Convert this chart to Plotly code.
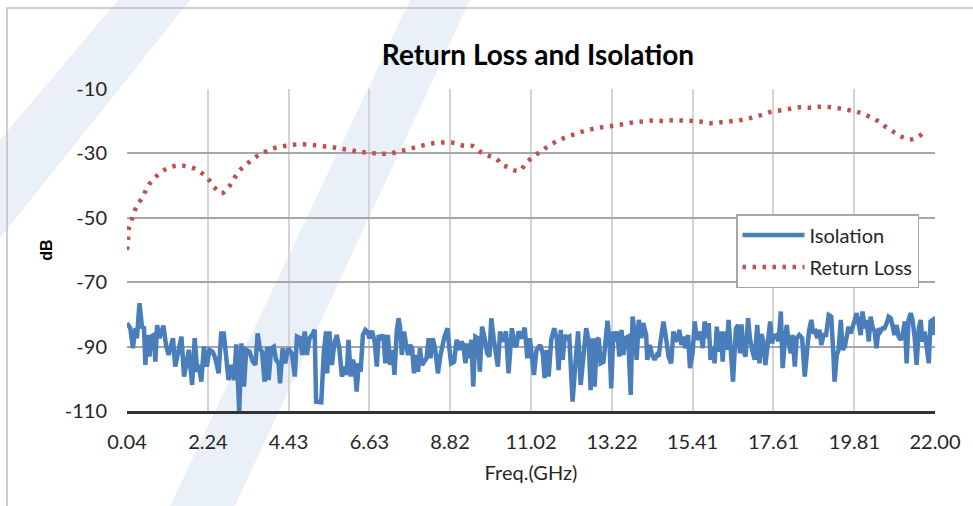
import plotly.graph_objects as go

# ---------------- data ----------------
tick_labels = ["0.04", "2.24", "4.43", "6.63", "8.82", "11.02", "13.22",
               "15.41", "17.61", "19.81", "22.00"]
y_ticks = [-10, -30, -50, -70, -90, -110]
y_tick_labels = ["-10", "-30", "-50", "-70", "-90", "-110"]

rl_freq = [0.04, 0.07, 0.09, 0.18, 0.27, 0.40, 0.53, 0.66, 0.85, 1.05,
           1.30, 1.56, 1.83, 2.06, 2.25, 2.41, 2.61, 2.80, 2.94, 3.09,
           3.29, 3.50, 3.74, 3.97, 4.23, 4.50, 4.77, 5.04, 5.30, 5.58,
           5.84, 6.11, 6.37, 6.64, 6.91, 7.17, 7.43, 7.69, 7.95, 8.21,
           8.47, 8.74, 8.97, 9.20, 9.43, 9.64, 9.86, 10.08, 10.24, 10.38,
           10.54, 10.72, 10.88, 11.07, 11.29, 11.50, 11.73, 11.96, 12.22, 12.48,
           12.74, 13.00, 13.27, 13.53, 13.80, 14.06, 14.33, 14.60, 14.87, 15.13,
           15.40, 15.66, 15.93, 16.19, 16.46, 16.73, 16.99, 17.25, 17.51, 17.77,
           18.03, 18.30, 18.58, 18.85, 19.11, 19.38, 19.64, 19.91, 20.16, 20.40,
           20.61, 20.84, 21.07, 21.31, 21.56, 21.76]
rl_db = [-60.0, -56.4, -53.3, -50.2, -47.3, -44.7, -42.0, -39.3, -37.0, -35.2,
         -34.0, -33.8, -34.5, -36.0, -38.0, -40.5, -42.4, -40.5, -38.0, -35.4,
         -33.4, -31.4, -29.8, -28.6, -27.9, -27.4, -27.2, -27.3, -27.7, -28.0,
         -28.5, -29.0, -29.5, -29.8, -30.1, -30.0, -29.4, -28.7, -27.9, -27.2,
         -26.7, -26.6, -26.8, -27.7, -27.7, -29.5, -30.7, -31.7, -33.7, -34.2,
         -35.2, -35.4, -33.1, -31.1, -29.4, -27.7, -26.2, -25.0, -24.0, -23.0,
         -22.3, -21.8, -21.4, -20.9, -20.4, -20.1, -19.8, -19.9, -19.7, -19.8,
         -19.9, -20.2, -20.6, -20.3, -20.0, -19.6, -19.0, -18.2, -17.2, -16.7,
         -16.2, -15.7, -15.8, -15.5, -15.6, -16.0, -16.5, -17.2, -18.3, -19.6,
         -21.4, -23.1, -24.7, -25.7, -24.7, -22.7]

iso_freq = [
    0.04, 0.13, 0.20, 0.27, 0.31, 0.38, 0.45, 0.50, 0.54, 0.59, 0.65, 0.70, 0.77, 0.81, 0.86, 0.92,
    1.03, 1.10, 1.17, 1.29, 1.35, 1.42, 1.52, 1.59, 1.65, 1.72, 1.81, 1.88, 1.95, 1.99, 2.06, 2.13,
    2.21, 2.28, 2.37, 2.44, 2.53, 2.60, 2.67, 2.73, 2.80, 2.88, 2.95, 3.01, 3.09, 3.15, 3.22, 3.28,
    3.37, 3.46, 3.53, 3.59, 3.65, 3.71, 3.78, 3.85, 3.89, 3.96, 4.03, 4.09, 4.16, 4.20, 4.27, 4.34,
    4.42, 4.52, 4.60, 4.66, 4.75, 4.80, 4.87, 4.93, 5.00, 5.07, 5.14, 5.18, 5.25, 5.32, 5.39,
    5.45, 5.48, 5.54, 5.61, 5.67, 5.74, 5.81, 5.88, 5.96, 6.01, 6.06, 6.12, 6.17, 6.23, 6.28, 6.34,
    6.39, 6.45, 6.52, 6.57, 6.63, 6.70, 6.77, 6.83, 6.88, 6.93, 7.01, 7.06, 7.13, 7.19, 7.26, 7.31,
    7.37, 7.42, 7.46, 7.51, 7.57, 7.62, 7.68, 7.73, 7.79, 7.84, 7.89, 7.95, 8.00, 8.06, 8.11, 8.18,
    8.24, 8.29, 8.35, 8.42, 8.49, 8.56, 8.67, 8.75, 8.80, 8.85, 8.93, 9.00, 9.07, 9.13, 9.18, 9.24,
    9.29, 9.34, 9.40, 9.45, 9.51, 9.58, 9.63, 9.69, 9.76, 9.83, 9.89, 9.94, 10.01, 10.07, 10.12, 10.18,
    10.25, 10.34, 10.41, 10.50, 10.58, 10.63, 10.68, 10.76, 10.85, 10.92,
    10.99, 11.05, 11.10, 11.17, 11.27, 11.34, 11.39, 11.45, 11.50, 11.57, 11.65, 11.72, 11.77, 11.83,
    11.88, 11.94, 11.99, 12.06, 12.15, 12.23, 12.30, 12.37, 12.44, 12.52, 12.59, 12.64, 12.70, 12.75,
    12.81, 12.86, 12.91, 12.99, 13.04, 13.10, 13.15, 13.20, 13.26, 13.31, 13.37, 13.42, 13.48, 13.53,
    13.58, 13.66, 13.73, 13.78, 13.86, 13.89, 13.95, 14.02, 14.07, 14.15, 14.18, 14.25, 14.31, 14.38,
    14.44, 14.49, 14.54, 14.62, 14.69, 14.76, 14.83, 14.89, 14.94, 15.00, 15.05, 15.11, 15.16, 15.21,
    15.29, 15.34, 15.41, 15.47, 15.52, 15.58, 15.63, 15.69, 15.74, 15.79, 15.85, 15.90, 15.96, 16.01,
    16.07, 16.12, 16.18, 16.23, 16.28, 16.34, 16.39, 16.45, 16.51,
    16.59, 16.65, 16.70, 16.74, 16.79, 16.85, 16.92, 16.97, 17.03, 17.10, 17.17, 17.23, 17.28, 17.33,
    17.39, 17.46, 17.52, 17.57, 17.62, 17.70, 17.75, 17.81, 17.86, 17.91, 17.97, 18.02, 18.08, 18.13,
    18.19, 18.24, 18.31, 18.39, 18.46, 18.53, 18.58, 18.64, 18.69, 18.75, 18.80, 18.86, 18.91, 18.97,
    19.04, 19.11, 19.18, 19.24, 19.27, 19.33, 19.38, 19.44, 19.49, 19.55, 19.60, 19.65, 19.71, 19.76,
    19.82, 19.87, 19.93, 19.98, 20.03, 20.09, 20.14, 20.20, 20.25, 20.31, 20.36, 20.41, 20.47, 20.52,
    20.58, 20.63, 20.69, 20.74, 20.80, 20.85, 20.90, 20.96, 21.01, 21.07, 21.12, 21.18, 21.23, 21.28,
    21.34, 21.39, 21.45, 21.50, 21.56, 21.61, 21.66, 21.72, 21.77, 21.83, 21.88, 21.94, 21.99]
iso_db = [
    -82.7, -84.3, -90.5, -84.3, -87.4, -76.5, -84.3, -83.8, -95.7, -86.4, -93.1, -86.9, -86.4, -94.7, -83.3, -87.4,
    -83.5, -89.5, -92.6, -87.4, -96.2, -92.1, -86.9, -99.3, -96.2, -91.0, -101.9, -87.4, -97.8, -95.7, -100.9, -90.0,
    -96.2, -91.0, -91.6, -93.6, -98.3, -85.9, -85.9, -92.6, -100.4, -95.7, -100.4, -89.3, -110.2, -89.0, -102.4, -91.0,
    -91.6, -94.7, -95.7, -85.9, -90.5, -91.6, -100.9, -90.0, -100.4, -90.5, -90.0, -94.1, -95.2, -101.4, -90.5, -95.2,
    -90.5, -92.1, -99.3, -86.9, -87.4, -92.6, -85.3, -92.6, -87.4, -86.4, -84.8, -107.1, -107.1, -107.3, -91.6,
    -85.3, -98.3, -85.3, -95.7, -89.5, -86.4, -90.5, -99.3, -96.2, -98.8, -87.9, -99.3, -94.1, -95.7, -104.0, -95.2,
    -97.8, -86.4, -84.8, -85.3, -87.4, -85.1, -88.4, -96.2, -86.4, -87.4, -86.4, -95.2, -86.4, -95.7, -91.0, -98.8,
    -85.3, -81.2, -83.8, -92.6, -85.3, -89.0, -92.6, -89.5, -90.5, -98.3, -92.6, -97.8, -90.5, -95.7, -94.7, -93.6,
    -87.4, -93.6, -87.4, -91.0, -98.3, -92.6, -86.9, -84.3, -90.5, -95.2, -94.7, -87.9, -91.0, -88.4, -89.5, -95.2,
    -89.0, -93.6, -87.9, -102.4, -86.9, -87.4, -97.8, -83.8, -87.4, -92.1, -93.1, -81.2, -87.9, -93.1, -96.2, -85.3,
    -88.4, -85.3, -98.3, -84.3, -90.0, -89.5, -85.3, -87.4, -84.1, -93.6,
    -87.4, -93.6, -98.8, -91.0, -89.5, -92.1, -99.8, -91.0, -99.3, -87.9, -84.3, -87.4, -97.3, -84.8,
    -94.1, -86.4, -87.4, -86.9, -107.1, -94.7, -85.3, -101.9, -92.6, -84.3, -88.4, -103.5, -87.4, -102.4,
    -87.9, -87.4, -95.2, -94.7, -89.0, -82.0, -87.4, -103.0, -85.3, -88.4, -85.3, -93.1, -84.8, -92.6,
    -87.4, -86.9, -105.0, -80.7, -87.4, -94.1, -81.7, -87.4, -82.7, -86.4, -94.1, -89.5, -92.6, -94.1,
    -92.6, -93.1, -88.4, -82.2, -87.4, -93.1, -95.2, -85.3, -87.4, -88.4, -84.8, -89.5, -86.9, -90.5,
    -86.4, -96.7, -92.1, -82.2, -87.4, -87.4, -85.3, -90.5, -82.2, -87.4, -82.7, -94.1, -90.0, -95.2,
    -83.8, -91.6, -85.3, -94.7, -85.3, -91.0, -81.7, -90.5, -100.9,
    -84.3, -83.3, -92.1, -83.1, -91.0, -93.1, -81.2, -87.4, -91.0, -94.1, -83.3, -95.2, -86.1, -88.1,
    -95.7, -88.4, -82.2, -89.0, -86.9, -86.4, -88.4, -79.1, -96.7, -89.5, -83.3, -88.4, -92.1, -86.4,
    -96.2, -87.4, -86.4, -87.4, -99.3, -90.5, -84.8, -81.7, -85.9, -85.3, -87.4, -84.8, -89.5, -86.4,
    -86.4, -80.2, -80.7, -92.6, -100.9, -92.6, -91.0, -81.7, -91.0, -90.0, -86.4, -83.8, -85.9, -84.3,
    -81.7, -79.6, -84.3, -86.4, -79.1, -84.3, -81.7, -88.4, -80.7, -84.3, -85.3, -90.5, -84.3, -85.3,
    -84.3, -84.3, -82.7, -80.7, -81.2, -83.3, -86.4, -83.3, -86.9, -87.9, -86.4, -82.2, -95.2, -81.7,
    -79.6, -81.7, -87.4, -95.7, -84.3, -81.7, -88.4, -85.3, -89.0, -95.2, -82.2, -81.7, -86.4]

# ---------------- styling ----------------
FONT = "Lato, Open Sans, sans-serif"
BLUE = "#4a7ebb"
RED = "#c0504d"
TXT = "#262626"

W, H = 973, 506
L, R, T, B = 127, 38, 89, 95
PW, PH = W - L - R, H - T - B


def px2paper(x, y):
    return (x - L) / PW, (H - B - y) / PH


def poly(points):
    pts = [px2paper(x, y) for x, y in points]
    d = "M " + " L ".join(f"{a:.4f},{b:.4f}" for a, b in pts) + " Z"
    return dict(type="path", path=d, xref="paper", yref="paper",
                fillcolor="#e9f0f8", line=dict(width=0), layer="below")


fig = go.Figure()
fig.add_trace(go.Scatter(
    x=iso_freq, y=iso_db, mode="lines", name="Isolation",
    line=dict(color=BLUE, width=4.5), legendgroup="a"))
fig.add_trace(go.Scatter(
    x=rl_freq, y=rl_db, mode="lines", name="Return Loss",
    line=dict(color=RED, width=4.5, dash="3.5px,6.5px", shape="spline"),
    legendgroup="b"))

shapes = [
    poly([(118, 0), (190, 0), (0, 238), (0, 140)]),
    poly([(410, 0), (470, 0), (235, 506), (170, 506)]),
    # outer chart frame
    dict(type="rect", xref="paper", yref="paper",
         x0=px2paper(7, 0)[0], x1=px2paper(990, 0)[0],
         y0=px2paper(0, 530)[1], y1=px2paper(0, 8)[1],
         line=dict(color="#bfbfbf", width=1.5), layer="below"),
]

fig.update_layout(
    width=W, height=H,
    margin=dict(l=L, r=R, t=T, b=B),
    paper_bgcolor="white", plot_bgcolor="rgba(0,0,0,0)",
    font=dict(family=FONT, size=16, color=TXT),
    title=dict(text="<b>Return Loss and Isolation</b>", x=538 / W, y=1 - 55 / H,
               xanchor="center", yanchor="middle",
               font=dict(family=FONT, size=28, color="#000000")),
    shapes=shapes,
    showlegend=True,
    legend=dict(x=px2paper(736, 0)[0], y=px2paper(0, 214)[1],
                xanchor="left", yanchor="top",
                bgcolor="white", bordercolor="#a6a6a6", borderwidth=1.5,
                font=dict(family=FONT, size=20, color=TXT),
                tracegroupgap=3, traceorder="grouped", itemwidth=62),
)
fig.update_xaxes(
    range=[0.04, 22.0], tickvals=[float(t) for t in tick_labels], ticktext=tick_labels,
    showgrid=True, gridcolor="#d4d4d4", gridwidth=1.8,
    showline=True, linecolor="#333333", linewidth=2.5,
    ticks="", ticklabelstandoff=11, zeroline=False,
    tickfont=dict(family=FONT, size=20, color=TXT),
    title=dict(text="Freq.(GHz)", standoff=15, font=dict(family=FONT, size=20, color=TXT)),
)
fig.update_yaxes(
    range=[-110, -10], tickvals=y_ticks, ticktext=y_tick_labels,
    showgrid=True, gridcolor="#a6a6a6", gridwidth=1.8,
    zeroline=False, showline=False, ticks="", ticklabelstandoff=19,
    tickfont=dict(family=FONT, size=20, color=TXT),
    title=dict(text="<b>dB</b>", standoff=8, font=dict(family="Liberation Sans, Arial", size=16, color="#000000")),
)

fig.write_html("out.html", config={"displayModeBar": False},
               post_script="document.body.style.margin='0';")
